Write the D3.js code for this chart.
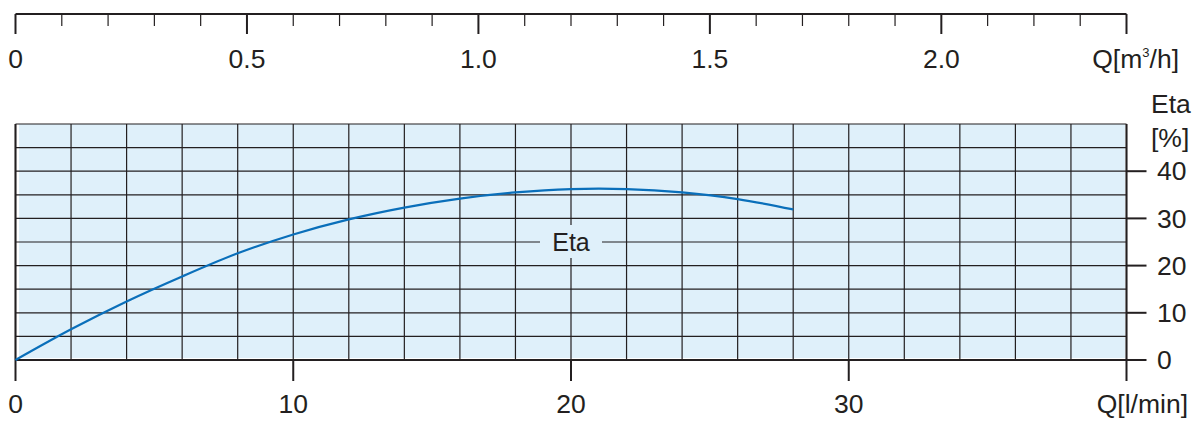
<!DOCTYPE html>
<html><head><meta charset="utf-8">
<script src="https://cdn.jsdelivr.net/npm/d3@7"></script>
<style>
html,body{margin:0;padding:0;background:#fff;}
svg text{font-family:"Liberation Sans",Arial,Helvetica,sans-serif;fill:#231f20;}
</style></head>
<body><svg id="c" width="1202" height="422"></svg>
<script>
// ---- data ----
const flowLmin = [0, 2, 4, 6, 8, 10, 12, 14, 16, 18, 20, 22, 24, 26, 28];
const etaPct   = [0, 6.5, 12.4, 17.7, 22.6, 26.6, 29.8, 32.3, 34.2, 35.5, 36.2, 36.2, 35.5, 34.1, 31.9];
const bottomTicks = [0, 10, 20, 30];
const topTicks = [0, 0.5, 1.0, 1.5, 2.0];
const topTickLabels = ["0", "0.5", "1.0", "1.5", "2.0"];
const rightTicks = [0, 10, 20, 30, 40];
const curveLabel = {text: "Eta", q: 20, eta: 25};

// ---- layout ----
const ink = "#231f20", fillBg = "#dff0fa", curveColor = "#0a6fba";
const L = 15.5, R = 1126.5, T = 124, B = 360;
const svg = d3.select("#c");
const x = d3.scaleLinear().domain([0, 40]).range([L, R]);
const xm3 = d3.scaleLinear().domain([0, 2.4]).range([L, R]);
const y = d3.scaleLinear().domain([0, 50]).range([B, T]);
const fs = 26.5;

// background
svg.append("rect").attr("x", L + 3.5).attr("y", T).attr("width", R - L - 5).attr("height", B - T - 2).attr("fill", fillBg);

// grid
const g = svg.append("g").attr("stroke", ink).attr("stroke-width", 1.2);
d3.range(0, 41, 2).forEach(v => {
  g.append("line").attr("x1", x(v)).attr("x2", x(v)).attr("y1", T).attr("y2", B);
});
d3.range(0, 51, 5).forEach(v => {
  g.append("line").attr("x1", L).attr("x2", R).attr("y1", y(v)).attr("y2", y(v));
});

// left border
svg.append("line").attr("x1", L).attr("x2", L).attr("y1", T).attr("y2", B).attr("stroke", ink).attr("stroke-width", 2);

// top axis (m3/h)
const topAx = svg.append("g").attr("transform", "translate(0,14)");
topAx.append("line").attr("x1", L).attr("x2", R).attr("y1", 0).attr("y2", 0).attr("stroke", ink).attr("stroke-width", 2);
d3.range(0, 25).forEach(i => {
  const v = i / 10;
  const major = (i % 5 === 0) || i === 24;
  topAx.append("line").attr("x1", xm3(v)).attr("x2", xm3(v)).attr("y1", 0).attr("y2", major ? 20 : 12)
    .attr("stroke", ink).attr("stroke-width", major ? 2 : 1.2);
});
topTicks.forEach((v, i) => {
  topAx.append("text").attr("x", xm3(v)).attr("y", 54).attr("text-anchor", "middle").attr("font-size", fs).text(topTickLabels[i]);
});
const qm = topAx.append("text").attr("x", 1179).attr("y", 54).attr("text-anchor", "end").attr("font-size", fs);
qm.append("tspan").text("Q[m");
qm.append("tspan").attr("font-size", 13).attr("dy", -11).text("3");
qm.append("tspan").attr("dy", 11).text("/h]");

// bottom axis
svg.append("line").attr("x1", L).attr("x2", R).attr("y1", B).attr("y2", B).attr("stroke", ink).attr("stroke-width", 2);
bottomTicks.forEach(v => {
  svg.append("line").attr("x1", x(v)).attr("x2", x(v)).attr("y1", B).attr("y2", B + 21).attr("stroke", ink).attr("stroke-width", 2);
  svg.append("text").attr("x", x(v)).attr("y", 413).attr("text-anchor", "middle").attr("font-size", fs).text(v);
});
svg.append("text").attr("x", 1188).attr("y", 413).attr("text-anchor", "end").attr("font-size", fs).text("Q[l/min]");

// right axis
svg.append("line").attr("x1", R).attr("x2", R).attr("y1", T).attr("y2", B + 21).attr("stroke", ink).attr("stroke-width", 2);
rightTicks.forEach(v => {
  svg.append("line").attr("x1", R).attr("x2", R + 20).attr("y1", y(v)).attr("y2", y(v)).attr("stroke", ink).attr("stroke-width", 2);
  svg.append("text").attr("x", 1157).attr("y", y(v)).attr("dy", "0.35em").attr("font-size", fs).text(v);
});
svg.append("text").attr("x", 1151).attr("y", 113).attr("font-size", fs).text("Eta");
svg.append("text").attr("x", 1151).attr("y", 147).attr("font-size", fs).text("[%]");

// curve
const line = d3.line().x(d => x(d[0])).y(d => y(d[1])).curve(d3.curveCatmullRom.alpha(0.5));
svg.append("path").datum(flowLmin.map((q, i) => [q, etaPct[i]])).attr("d", line)
  .attr("fill", "none").attr("stroke", curveColor).attr("stroke-width", 2.2);

// curve label
const lx = x(curveLabel.q), ly = y(curveLabel.eta);
svg.append("rect").attr("x", lx - 31).attr("y", ly - 17).attr("width", 62).attr("height", 33).attr("fill", fillBg);
svg.append("text").attr("x", lx).attr("y", ly).attr("dy", "0.36em").attr("text-anchor", "middle").attr("font-size", 25).text(curveLabel.text);
</script></body></html>
